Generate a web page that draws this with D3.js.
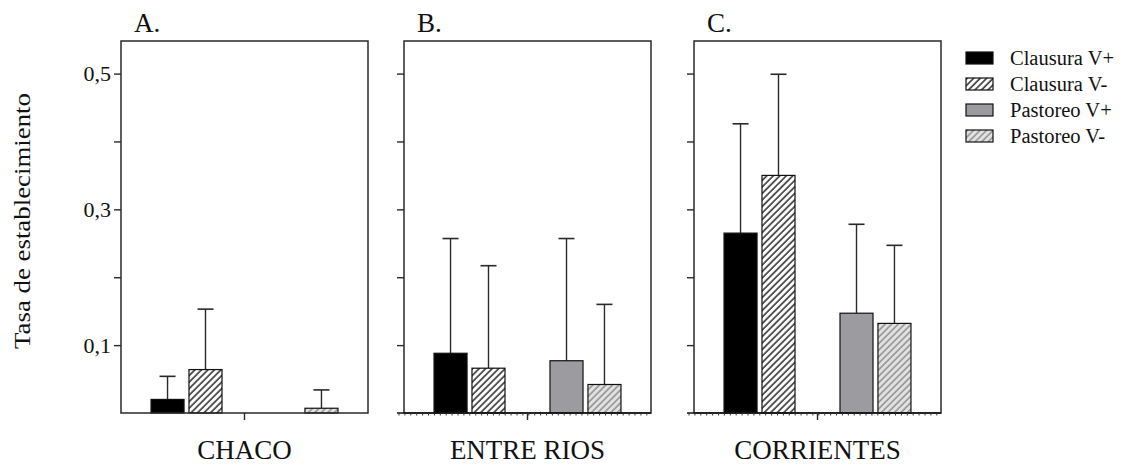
<!DOCTYPE html>
<html>
<head>
<meta charset="utf-8">
<script src="https://cdn.jsdelivr.net/npm/d3@7/dist/d3.min.js"></script>
<style>
  html, body { margin: 0; padding: 0; background: #fff; }
  svg { display: block; }
</style>
</head>
<body>
<svg id="chart" width="1129" height="465" font-family="Liberation Serif, DejaVu Serif, serif"></svg>
<script>
// ---- data ----
const regions = ["CHACO", "ENTRE RIOS", "CORRIENTES"];
const panelLetters = ["A.", "B.", "C."];
const seriesNames = ["Clausura V+", "Clausura V-", "Pastoreo V+", "Pastoreo V-"];
const groups = ["Clausura", "Pastoreo"];
const levels = ["V+", "V-"];

// mean values per region (CHACO, ENTRE RIOS, CORRIENTES)
const clausuraVplus  = [0.020, 0.088, 0.265];
const clausuraVminus = [0.064, 0.066, 0.350];
const pastoreoVplus  = [0.000, 0.077, 0.147];
const pastoreoVminus = [0.007, 0.042, 0.132];

// upper error (standard error) per region
const errClausuraVplus  = [0.034, 0.169, 0.161];
const errClausuraVminus = [0.089, 0.151, 0.149];
const errPastoreoVplus  = [0.000, 0.180, 0.131];
const errPastoreoVminus = [0.027, 0.118, 0.115];

const yTickValues = [0.1, 0.2, 0.3, 0.4, 0.5];
const yTickLabels = ["0,1", "", "0,3", "", "0,5"];
const yLabel = "Tasa de establecimiento";

// ---- layout ----
const FONT = "'Liberation Serif', 'DejaVu Serif', serif";
const svg = d3.select("#chart");
const panelLefts = [121, 404, 694];
const panelW = 247;
const plotTop = 41, plotBottom = 413;

const seriesValues = [clausuraVplus, clausuraVminus, pastoreoVplus, pastoreoVminus];
const seriesErrors = [errClausuraVplus, errClausuraVminus, errPastoreoVplus, errPastoreoVminus];

const y = d3.scaleLinear().domain([0, 0.548]).range([plotBottom, plotTop]);
const x0 = d3.scaleBand().domain(groups).range([0, panelW]).paddingInner(0.388).paddingOuter(0.259);
const x1 = d3.scaleBand().domain(levels).range([0, x0.bandwidth()]).paddingInner(0.13).paddingOuter(0);

// patterns
const defs = svg.append("defs");
function hatch(id, bg, fg, w) {
  const p = defs.append("pattern").attr("id", id)
    .attr("patternUnits", "userSpaceOnUse").attr("width", 4.6).attr("height", 4.6)
    .attr("patternTransform", "rotate(45)");
  p.append("rect").attr("width", 4.6).attr("height", 4.6).attr("fill", bg);
  p.append("line").attr("x1", 1).attr("y1", 0).attr("x2", 1).attr("y2", 4.6)
    .attr("stroke", fg).attr("stroke-width", w);
}
hatch("hatchBlack", "#ffffff", "#1a1a1a", 1.4);
hatch("hatchGray", "#e2e2e2", "#8e8e8e", 1.5);

const styles = {
  "Clausura V+": { fill: "#000000" },
  "Clausura V-": { fill: "url(#hatchBlack)" },
  "Pastoreo V+": { fill: "#9c9ca0" },
  "Pastoreo V-": { fill: "url(#hatchGray)" }
};
const frameColor = "#2a2a2a";

function txt(sel, size) {
  return sel.style("font-family", FONT).style("font-size", size + "px").attr("fill", "#111");
}

regions.forEach((region, ri) => {
  const g = svg.append("g").attr("transform", `translate(${panelLefts[ri]},0)`);

  const data = seriesNames.map((name, si) => ({
    name,
    group: groups[Math.floor(si / 2)],
    level: levels[si % 2],
    value: seriesValues[si][ri],
    err: seriesErrors[si][ri]
  }));

  // left axis ticks
  const axis = d3.axisLeft(y).tickValues(yTickValues).tickSize(7).tickPadding(3)
    .tickFormat((d, i) => ri === 0 ? yTickLabels[i] : "");
  const ag = g.append("g").call(axis);
  ag.attr("font-family", null).attr("font-size", null);
  ag.select(".domain").remove();
  ag.selectAll(".tick line").attr("stroke", frameColor).attr("stroke-width", 1.4);
  txt(ag.selectAll(".tick text"), 22);

  // error bars
  const eg = g.append("g");
  data.filter(d => d.err > 0).forEach(d => {
    const cx = x0(d.group) + x1(d.level) + x1.bandwidth() / 2;
    eg.append("line").attr("x1", cx).attr("x2", cx)
      .attr("y1", y(d.value)).attr("y2", y(d.value + d.err))
      .attr("stroke", frameColor).attr("stroke-width", 1.4);
    eg.append("line").attr("x1", cx - 8).attr("x2", cx + 8)
      .attr("y1", y(d.value + d.err)).attr("y2", y(d.value + d.err))
      .attr("stroke", frameColor).attr("stroke-width", 1.6);
  });

  // bars
  g.append("g").selectAll("rect").data(data.filter(d => d.value > 0)).join("rect")
    .attr("x", d => x0(d.group) + x1(d.level))
    .attr("width", x1.bandwidth())
    .attr("y", d => y(d.value))
    .attr("height", d => y(0) - y(d.value))
    .attr("fill", d => styles[d.name].fill)
    .attr("stroke", "#111").attr("stroke-width", 1.2);

  // frame
  g.append("rect").attr("x", 0).attr("y", plotTop).attr("width", panelW).attr("height", plotBottom - plotTop)
    .attr("fill", "none").attr("stroke", frameColor).attr("stroke-width", 1.5);

  // bottom axis extension with minor dots for B and C
  if (ri > 0) {
    g.append("line").attr("x1", -7).attr("x2", panelW).attr("y1", plotBottom).attr("y2", plotBottom)
      .attr("stroke", "#111").attr("stroke-width", 1.6);
    const dots = d3.range(-5, panelW, 5.9);
    g.append("g").selectAll("line").data(dots).join("line")
      .attr("x1", d => d).attr("x2", d => d)
      .attr("y1", plotBottom).attr("y2", plotBottom + 2.5)
      .attr("stroke", "#333").attr("stroke-width", 1);
  }

  // center tick
  g.append("line").attr("x1", panelW / 2).attr("x2", panelW / 2)
    .attr("y1", plotBottom).attr("y2", plotBottom + 7)
    .attr("stroke", frameColor).attr("stroke-width", 1.4);

  // panel letter
  txt(g.append("text").attr("x", 13).attr("y", 32), 27).text(panelLetters[ri]);

  // region label
  txt(g.append("text").attr("x", panelW / 2).attr("y", 459).attr("text-anchor", "middle"), 27).text(region);
});

// y label
txt(svg.append("text")
  .attr("transform", "translate(30,221) rotate(-90)")
  .attr("text-anchor", "middle")
  .attr("textLength", 256).attr("lengthAdjust", "spacingAndGlyphs"), 24)
  .text(yLabel);

// legend
const legend = svg.append("g").attr("transform", "translate(966,52)");
seriesNames.forEach((name, i) => {
  const row = legend.append("g").attr("transform", `translate(0,${i * 26})`);
  row.append("rect").attr("width", 27).attr("height", 12)
    .attr("fill", styles[name].fill).attr("stroke", "#111").attr("stroke-width", 1.2);
  txt(row.append("text").attr("x", 44).attr("y", 13), 20.5).text(name);
});
</script>
</body>
</html>
